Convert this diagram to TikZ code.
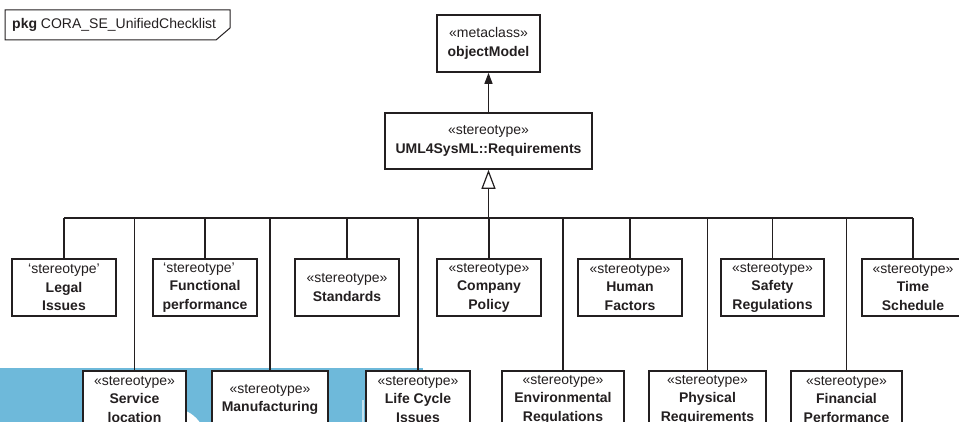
\documentclass[tikz,border=0pt]{standalone}
\usepackage{fontspec}
\setmainfont{Liberation Sans}
\usetikzlibrary{arrows.meta}
\definecolor{ink}{HTML}{231F20}
\definecolor{band}{HTML}{6EB9DA}

\begin{document}
\begin{tikzpicture}[x=1pt,y=-1pt,
  every node/.style={font=\fontsize{14}{18.5}\selectfont, text=ink},
  box/.style={draw=ink, line width=1.6pt, fill=white, minimum height=57pt,
              minimum width=104pt, inner sep=0pt, align=center},
  link/.style={draw=ink, line width=1.2pt},
  tab/.style={draw=ink, line width=1pt}]

\useasboundingbox (0,0) rectangle (959,422);
\clip (0,0) rectangle (959,422);

% backdrop strip along the lower left edge
\fill[band] (0,368) rectangle (423,422);
\fill[white] (172,442) circle (34pt);
\draw[white, opacity=0.6, line width=2pt] (363,400) -- (363,422);

% package tab
\draw[tab] (5,10) -- (230,10) -- (230,28) -- (216,40) -- (5,40) -- cycle;
\node[anchor=west, inner sep=0pt] (pkg) at (12,25) {\textbf{pkg} CORA\_SE\_UnifiedChecklist};

% metaclass and base stereotype
\node[box, minimum width=103pt] (meta) at (488.5,43.5) {«metaclass»\\\textbf{objectModel}};
\node[box, minimum width=207pt, minimum height=56pt] (req) at (488.5,141) {«stereotype»\\\textbf{UML4SysML::Requirements}};
\draw[link, -{Triangle[length=11pt,width=8pt]}] (req.north) -- (meta.south);

% upper row of stereotypes
\node[box] (legal)  at (64,287.5)  {‘stereotype’\\\textbf{Legal}\\\textbf{Issues}};
\node[box] (func)   at (205,287.5) {‘stereotype’\hspace*{12pt}\\\textbf{Functional}\\\textbf{performance}};
\node[box] (std)    at (347,287.5) {«stereotype»\\\textbf{Standards}};
\node[box] (comp)   at (489,287.5) {«stereotype»\\\textbf{Company}\\\textbf{Policy}};
\node[box] (human)  at (630,287.5) {«stereotype»\\\textbf{Human}\\\textbf{Factors}};
\node[box, minimum width=103pt] (safety) at (772.5,287.5) {«stereotype»\\\textbf{Safety}\\\textbf{Regulations}};
\node[box, minimum width=102pt] (time)   at (913,287.5) {«stereotype»\\\textbf{Time}\\\textbf{Schedule}};

% lower row of stereotypes
\node[box, minimum width=103pt] (service) at (134.5,399.5) {«stereotype»\\\textbf{Service}\\\textbf{location}};
\node[box, minimum width=116pt] (manuf)   at (270,399.5)   {«stereotype»\\\textbf{Manufacturing}};
\node[box] (life)                         at (418,399.5)   {«stereotype»\\\textbf{Life Cycle}\\\textbf{Issues}};
\node[box, minimum width=122pt] (env)     at (563,399.5)   {«stereotype»\\\textbf{Environmental}\\\textbf{Regulations}};
\node[box, minimum width=117pt] (phys)    at (707.5,399.5) {«stereotype»\\\textbf{Physical}\\\textbf{Requirements}};
\node[box, minimum width=111pt] (fin)     at (846.5,399.5) {«stereotype»\\\textbf{Financial}\\\textbf{Performance}};

% generalization tree
\coordinate (hub) at (488.5,218);
\draw[link] (legal.north |- hub) -- (time.north |- hub);
\draw[link, -{Triangle[open, length=19pt, width=14pt, fill=white]}] (hub) -- (req.south);
\foreach \n in {legal,func,std,comp,human,safety,time,service,manuf,life,env,phys,fin}
  \draw[link] (\n.north |- hub) -- (\n.north);
\end{tikzpicture}
\end{document}
